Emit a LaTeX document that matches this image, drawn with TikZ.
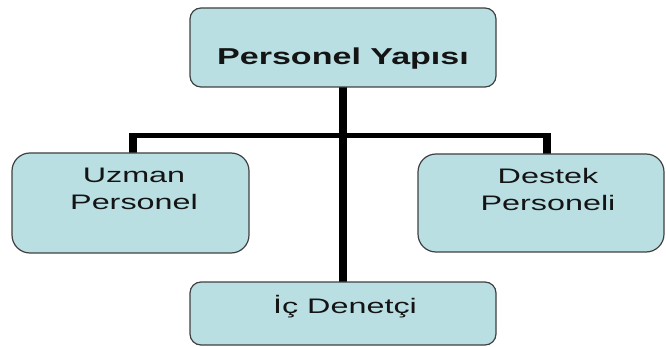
\documentclass[tikz,border=0pt]{standalone}
\usepackage{fontspec}
\setmainfont{Liberation Sans}
\definecolor{boxfill}{RGB}{185,223,227}
\definecolor{boxline}{RGB}{64,64,64}
\definecolor{txtcol}{RGB}{20,20,20}
\begin{document}
\begin{tikzpicture}[x=1pt,y=-1pt,
  box/.style={draw=boxline, line width=1.2pt, fill=boxfill, inner sep=0pt, outer sep=0pt},
  smallbox/.style={box, rounded corners=11pt},
  bigbox/.style={box, rounded corners=18pt},
  vline/.style={line width=7.5pt, black},
  hline/.style={line width=5pt, black},
  reg/.style={anchor=base, inner sep=0pt, text=txtcol, font=\fontsize{21}{27}\selectfont},
  bld/.style={anchor=base, inner sep=0pt, text=txtcol, font=\fontsize{23}{28}\selectfont\bfseries}]
\useasboundingbox (0,0) rectangle (666,347);
% junction coordinates
\coordinate (jl) at (133,133.5);
\coordinate (jr) at (547,133.5);
\coordinate (hl) at (129.25,136);
\coordinate (hr) at (550.75,136);
\coordinate (tc) at (343,87);
\coordinate (bc) at (343,282);
% connectors
\draw[hline] (hl) -- (hr);
\draw[vline] (tc) -- (bc);
\draw[vline] (jl) -- (133,154);
\draw[vline] (jr) -- (547,155);
% boxes
\node[smallbox, minimum width=306pt, minimum height=79pt] (top) at (343,47.5) {};
\node[bigbox, minimum width=237pt, minimum height=100pt] (left) at (130.5,203) {};
\node[bigbox, minimum width=246pt, minimum height=98pt] (right) at (541,203) {};
\node[smallbox, minimum width=306pt, minimum height=63pt] (bottom) at (343,313.5) {};
% texts
\node[bld] (ttop) at (343,65) {\scalebox{1.48}[1]{Personel Yapısı}};
\node[reg] (tl1) at (134,183) {\scalebox{1.54}[1]{Uzman}};
\node[reg] (tl2) at (134,210) {\scalebox{1.54}[1]{Personel}};
\node[reg] (tr1) at (548,184) {\scalebox{1.54}[1]{Destek}};
\node[reg] (tr2) at (548,211) {\scalebox{1.54}[1]{Personeli}};
\node[reg] (tb) at (345,313) {\scalebox{1.54}[1]{İç Denetçi}};
\end{tikzpicture}
\end{document}
